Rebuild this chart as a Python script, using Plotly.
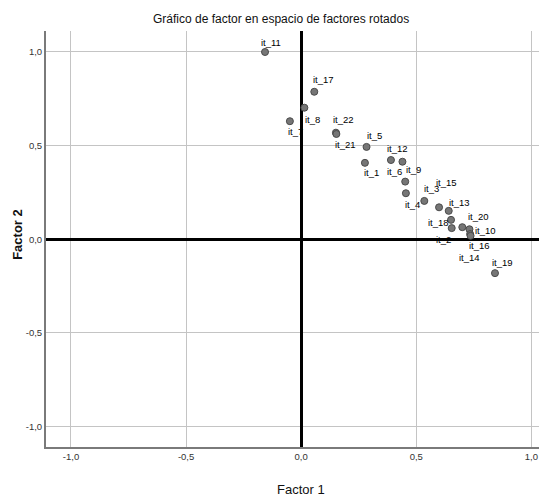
import plotly.graph_objects as go

# Item loadings on rotated factors
items = ["it_11", "it_17", "it_8", "it_7", "it_22", "it_21", "it_5", "it_1",
         "it_12", "it_6", "it_9", "it_4", "it_3", "it_15", "it_13", "it_18",
         "it_2", "it_20", "it_10", "it_16", "it_14", "it_19"]
factor1 = [-0.157, 0.057, 0.014, -0.049, 0.151, 0.153, 0.284, 0.277,
           0.390, 0.440, 0.452, 0.455, 0.535, 0.599, 0.641, 0.651,
           0.654, 0.700, 0.731, 0.734, 0.736, 0.842]
factor2 = [0.998, 0.786, 0.701, 0.629, 0.568, 0.561, 0.492, 0.407,
           0.422, 0.413, 0.307, 0.245, 0.204, 0.170, 0.151, 0.103,
           0.059, 0.064, 0.053, 0.027, 0.018, -0.181]

# label offsets in pixels (dx right, dy up)
label_dx = [6, 9, 8, 6, 8, 9, 8, 7, 7, -8, 8, 7, 7, 7, 11, -13, -8, 16, 16, 9, -1, 8]
label_dy = [10, 12, -12, -10, 13, -11, 11, -10, 12, -10, 12, -11, 12, 25, 8, -3, -11, 11, -1, -11, -22, 11]

tick_vals = [-1.0, -0.5, 0.0, 0.5, 1.0]
tick_text = ["-1,0", "-0,5", "0,0", "0,5", "1,0"]

FONT = "Liberation Sans, Arial, sans-serif"

# figure size (page body has an 8px margin) and plot area geometry (pixels)
W, H = 547, 489
L, R, T, B = 38, 0, 23, 49.7
pw, ph = W - L - R, H - T - B

fig = go.Figure()
fig.add_trace(go.Scatter(
    x=factor1, y=factor2, mode="markers",
    marker=dict(size=7, color="#767676", line=dict(color="#4a4a4a", width=1)),
    hoverinfo="skip", showlegend=False,
))

for name, fx, fy, dx, dy in zip(items, factor1, factor2, label_dx, label_dy):
    fig.add_annotation(x=fx, y=fy, text=name, showarrow=False,
                       xshift=dx, yshift=dy,
                       font=dict(family=FONT, size=9.5, color="#000000"))

# chart title
fig.add_annotation(text="Gráfico de factor en espacio de factores rotados",
                   xref="paper", yref="paper",
                   x=(272.5 - L) / pw, y=(H - B - 11) / ph,
                   showarrow=False, xanchor="center", yanchor="middle",
                   font=dict(family=FONT, size=12, color="#111111"))
# x-axis title
fig.add_annotation(text="Factor 1", xref="paper", yref="paper",
                   x=(293 - L) / pw, y=(H - B - 481.5) / ph,
                   showarrow=False, xanchor="center", yanchor="middle",
                   font=dict(family=FONT, size=13, color="#111111"))
# y-axis title
fig.add_annotation(text="<b>Factor 2</b>", xref="paper", yref="paper",
                   x=(10 - L) / pw, y=(H - B - 227) / ph, textangle=-90,
                   showarrow=False, xanchor="center", yanchor="middle",
                   font=dict(family=FONT, size=13, color="#111111"))

fig.update_layout(
    width=W, height=H,
    margin=dict(l=L, r=R, t=T, b=B),
    paper_bgcolor="white", plot_bgcolor="white",
    xaxis=dict(
        range=[-1.1085, 1.1027], tickvals=tick_vals, ticktext=tick_text,
        showgrid=True, gridcolor="#c4c4c4", gridwidth=1,
        zeroline=True, zerolinecolor="#000000", zerolinewidth=3,
        showline=True, linecolor="#7a7a7a", linewidth=2,
        ticks="", ticklen=0, automargin=False,
        tickfont=dict(family=FONT, size=9.5, color="#333333"),
        fixedrange=True,
    ),
    yaxis=dict(
        range=[-1.108, 1.110], tickvals=tick_vals, ticktext=tick_text,
        showgrid=True, gridcolor="#c4c4c4", gridwidth=1,
        zeroline=True, zerolinecolor="#000000", zerolinewidth=3,
        showline=True, linecolor="#7a7a7a", linewidth=2,
        ticks="", ticklen=0, automargin=False,
        tickfont=dict(family=FONT, size=9.5, color="#333333"),
        fixedrange=True,
    ),
)

fig.write_html("out.html")
